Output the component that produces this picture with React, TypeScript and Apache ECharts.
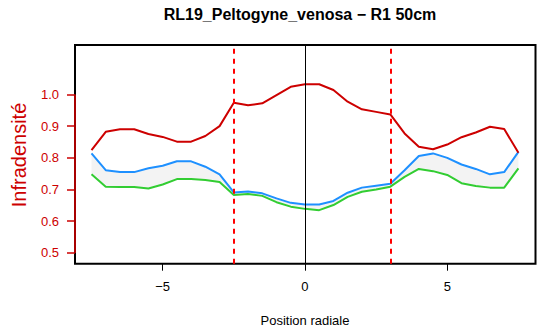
import React, { useEffect, useRef } from "react";
import * as echarts from "echarts";

const positions = [-7.5, -7, -6.5, -6, -5.5, -5, -4.5, -4, -3.5, -3, -2.5, -2, -1.5, -1, -0.5, 0, 0.5, 1, 1.5, 2, 2.5, 3, 3.5, 4, 4.5, 5, 5.5, 6, 6.5, 7, 7.5];
const redValues = [0.824, 0.882, 0.89, 0.89, 0.875, 0.866, 0.851, 0.851, 0.869, 0.9, 0.974, 0.966, 0.972, 0.998, 1.024, 1.032, 1.032, 1.014, 0.977, 0.953, 0.945, 0.937, 0.877, 0.835, 0.827, 0.842, 0.865, 0.88, 0.898, 0.891, 0.816];
const blueValues = [0.814, 0.761, 0.755, 0.755, 0.767, 0.775, 0.789, 0.789, 0.772, 0.748, 0.691, 0.694, 0.688, 0.672, 0.658, 0.653, 0.653, 0.664, 0.69, 0.706, 0.712, 0.718, 0.761, 0.806, 0.814, 0.8, 0.779, 0.765, 0.748, 0.755, 0.819];
const greenValues = [0.748, 0.709, 0.708, 0.708, 0.703, 0.716, 0.733, 0.733, 0.73, 0.724, 0.683, 0.686, 0.68, 0.66, 0.646, 0.639, 0.635, 0.651, 0.677, 0.693, 0.7, 0.709, 0.74, 0.765, 0.758, 0.746, 0.72, 0.711, 0.706, 0.706, 0.767];
const xTicks = [-5, 0, 5];
const yTicks = [0.5, 0.6, 0.7, 0.8, 0.9, 1.0];
const boundaries = [-2.5, 3];
const title = "RL19_Peltogyne_venosa − R1 50cm";
const xLabel = "Position radiale";
const yLabel = "Infradensité";

const X_MIN = -8.08;
const X_MAX = 8.1;
const Y_MIN = 0.466;
const Y_MAX = 1.156;
const FONT = "'Liberation Sans', Arial, Helvetica, sans-serif";

export default function App() {
  const ref = useRef<HTMLDivElement>(null);
  useEffect(() => {
    if (!ref.current) return;
    const chart = echarts.init(ref.current, null, { renderer: "svg" });
    const pair = (vals: number[]) => positions.map((x, i) => [x, vals[i]]);
    const option: any = {
      animation: false,
      backgroundColor: "#ffffff",
      textStyle: { fontFamily: FONT },
      grid: {
        left: 75,
        right: 1.5,
        top: 45,
        bottom: 72.3,
        show: true,
        borderColor: "#000000",
        borderWidth: 2,
        backgroundColor: "transparent",
      },
      xAxis: {
        type: "value",
        min: X_MIN,
        max: X_MAX,
        position: "bottom",
        axisLine: { show: false, onZero: false },
        splitLine: { show: false },
        axisTick: {
          show: true,
          customValues: xTicks,
          length: 7,
          lineStyle: { color: "#000000", width: 1 },
        },
        axisLabel: {
          customValues: xTicks,
          color: "#000000",
          fontSize: 13,
          fontFamily: FONT,
          margin: 16,
          formatter: (v: number) => (v < 0 ? "−" + Math.abs(v) : String(v)),
        },
      },
      yAxis: {
        type: "value",
        min: Y_MIN,
        max: Y_MAX,
        position: "left",
        axisLine: { show: false, onZero: false },
        splitLine: { show: false },
        axisTick: {
          show: true,
          customValues: yTicks,
          length: 8,
          lineStyle: { color: "#cd0000", width: 1.5 },
        },
        axisLabel: {
          customValues: yTicks,
          color: "#cd0000",
          fontSize: 13,
          fontFamily: FONT,
          margin: 16,
          formatter: (v: number) => v.toFixed(1),
        },
      },
      graphic: [
        {
          type: "text",
          x: 300,
          y: 14,
          style: {
            text: title,
            fontSize: 16,
            fontWeight: "bold",
            fontFamily: FONT,
            fill: "#000000",
            align: "center",
            verticalAlign: "middle",
          },
        },
        {
          type: "text",
          x: 305,
          y: 320,
          style: {
            text: xLabel,
            fontSize: 13,
            fontFamily: FONT,
            fill: "#000000",
            align: "center",
            verticalAlign: "middle",
          },
        },
        {
          type: "text",
          x: 18.5,
          y: 155,
          rotation: Math.PI / 2,
          style: {
            text: yLabel,
            fontSize: 20,
            fontFamily: FONT,
            fill: "#cd0000",
            align: "center",
            verticalAlign: "middle",
          },
        },
      ],
      series: [
        {
          type: "custom",
          silent: true,
          data: [[0, 0.7]],
          z: 1,
          renderItem: (params: any, api: any) => {
            const pts: number[][] = [];
            positions.forEach((x, i) => pts.push(api.coord([x, blueValues[i]])));
            for (let i = positions.length - 1; i >= 0; i--) {
              pts.push(api.coord([positions[i], greenValues[i]]));
            }
            return {
              type: "polygon",
              shape: { points: pts },
              style: { fill: "#f3f3f3", stroke: "none" },
            };
          },
        },
        {
          type: "line",
          data: [
            [X_MIN, 0.5],
            [X_MIN, 1.0],
          ],
          showSymbol: false,
          symbol: "none",
          clip: false,
          silent: true,
          z: 6,
          lineStyle: { color: "#a80000", width: 2 },
        },
        {
          type: "line",
          data: pair(greenValues),
          showSymbol: false,
          symbol: "none",
          z: 3,
          lineStyle: { color: "#32cd32", width: 2 },
        },
        {
          type: "line",
          data: pair(blueValues),
          showSymbol: false,
          symbol: "none",
          z: 3,
          lineStyle: { color: "#1e90ff", width: 2 },
        },
        {
          type: "line",
          data: pair(redValues),
          showSymbol: false,
          symbol: "none",
          z: 4,
          lineStyle: { color: "#cd0000", width: 2 },
          markLine: {
            silent: true,
            symbol: "none",
            label: { show: false },
            animation: false,
            data: [
              { xAxis: 0, lineStyle: { color: "#000000", width: 1, type: "solid" } },
              ...boundaries.map((b) => ({
                xAxis: b,
                lineStyle: { color: "#ff0000", width: 2, type: [5, 5] },
              })),
            ],
          },
        },
      ],
    };
    chart.setOption(option);
    return () => chart.dispose();
  }, []);
  return (
    <div
      ref={ref}
      style={{ position: "fixed", left: 0, top: 0, width: 537, height: 336 }}
    />
  );
}
